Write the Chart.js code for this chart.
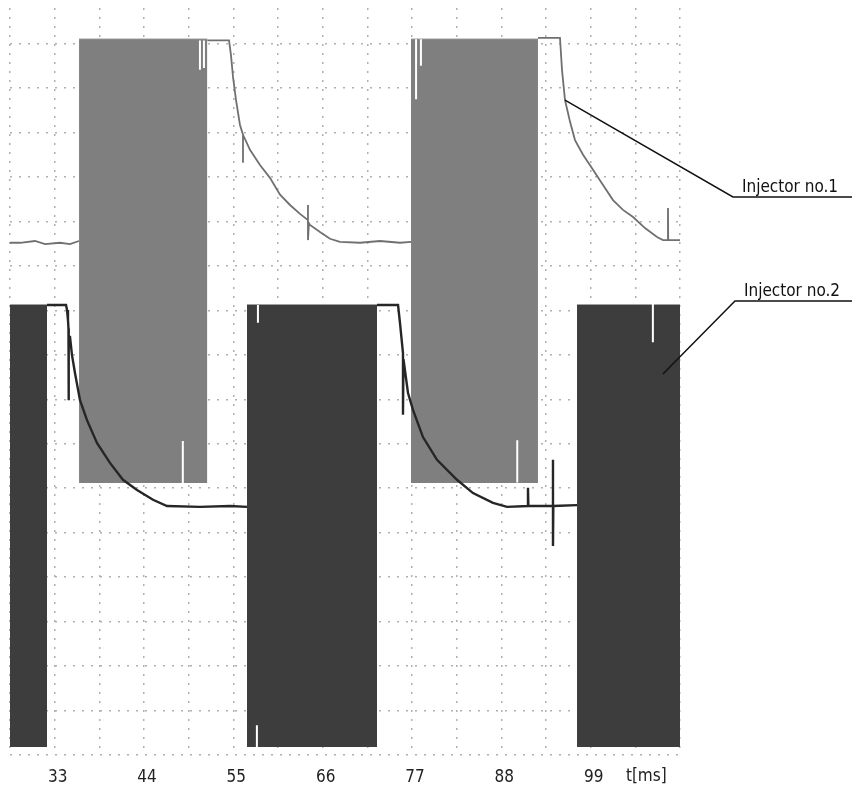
<!DOCTYPE html>
<html>
<head>
<meta charset="utf-8">
<title>Injector signals</title>
<script src="https://cdn.jsdelivr.net/npm/chart.js@4.4.0/dist/chart.umd.min.js"></script>
<style>
  html, body { margin: 0; padding: 0; background: #fff; }
  #chart { display: block; }
</style>
</head>
<body>
<canvas id="chart" width="852" height="785"></canvas>
<script>
// x in ms, y in grid divisions
const tickLabels = [33, 44, 55, 66, 77, 88, 99];

// Injector no.1 trace (null = hidden under a pulse block)
const inj1Time = [
    27.5, 28.73, 30.58, 31.81, 33.66, 34.89, 36.0, 36.0,
    51.8, 54.47, 54.71, 54.96, 55.33, 55.82, 56.19, 56.19, 56.19, 57.05, 58.28, 59.51, 60.75,
    61.98, 63.21, 64.19, 64.19, 64.19, 64.31, 64.44, 65.67, 66.9, 68.13, 70.6, 73.06, 75.52, 76.88, 76.88,
    92.51, 95.22, 95.47, 95.84, 96.46, 97.07, 98.06, 99.29, 100.52, 101.75, 102.98, 104.22,
    105.69, 107.17, 107.9, 108.52, 108.52, 108.55, 110.0
];
const inj1Value = [
    11.52, 11.52, 11.56, 11.49, 11.52, 11.49, 11.56, null,
    16.07, 16.07, 15.74, 15.25, 14.73, 14.17, 13.95, 13.32, 13.95, 13.61, 13.27, 12.98, 12.6,
    12.37, 12.17, 12.03, 12.37, 11.58, 11.96, 11.92, 11.76, 11.61, 11.54, 11.52, 11.56, 11.52, 11.54, null,
    16.13, 16.13, 15.41, 14.73, 14.24, 13.83, 13.5, 13.16, 12.82, 12.48, 12.26, 12.1,
    11.85, 11.65, 11.58, 11.58, 12.3, 11.58, 11.58
];

// Injector no.2 trace
const inj2Time = [
    32.06, 34.4, 34.52, 34.64, 34.7, 34.7, 34.76, 34.89, 35.13, 35.5, 36.12, 36.98, 38.21, 39.81,
    41.41, 43.14, 45.11, 46.83, 50.89, 54.59, 56.68, 56.68,
    72.69, 75.28, 75.52, 75.89, 75.89, 75.95, 76.51, 77.12, 78.35, 80.08, 82.54, 84.51, 86.97,
    88.7, 91.28, 91.28, 91.33, 94.36, 94.36, 94.36, 94.4, 97.32
];
const inj2Value = [
    10.12, 10.12, 10.01, 9.78, 9.6, 7.98, 9.4, 9.4, 9.0, 8.59, 7.98, 7.53, 7.02, 6.57,
    6.19, 5.96, 5.74, 5.6, 5.58, 5.6, 5.58, null,
    10.12, 10.12, 9.72, 9.04, 7.65, 8.9, 8.14, 7.76, 7.15, 6.64, 6.19, 5.89, 5.67,
    5.58, 5.6, 6.01, 5.6, 5.6, 6.64, 4.7, 5.6, 5.62
];

// pulse blocks (chopped signal, drawn filled)
const inj1PulseStart = [36.0, 76.88];
const inj1PulseEnd = [51.8, 92.51];
const inj1PulseTop = 16.1;
const inj1PulseBottom = 6.12;

const inj2PulseStart = [27.5, 56.68, 97.32];
const inj2PulseEnd = [32.06, 72.69, 110.37];
const inj2PulseTop = 10.12;
const inj2PulseBottom = 0.18;

// white dropouts inside the blocks
const glitchTime = [50.89, 51.38, 48.78, 77.5, 78.1, 89.96, 58.03, 106.66, 57.9];
const glitchFrom = [16.07, 16.07, 7.06, 16.1, 16.1, 7.08, 10.12, 10.19, 0.67];
const glitchTo = [15.41, 15.45, 6.12, 14.75, 15.5, 6.13, 9.72, 9.28, 0.18];

const FONT = "'DejaVu Sans Condensed', 'DejaVu Sans', sans-serif";

function points(t, v) {
    return t.map((x, i) => ({ x: x, y: v[i] }));
}

const datasets = [];

datasets.push({
    data: points(inj1Time, inj1Value),
    borderColor: '#707070',
    borderWidth: 1.8,
    order: 4
});

inj1PulseStart.forEach((s, i) => {
    datasets.push({
        data: [{ x: s, y: inj1PulseTop }, { x: inj1PulseEnd[i], y: inj1PulseTop }],
        fill: { value: inj1PulseBottom },
        backgroundColor: '#7f7f7f',
        borderColor: '#7f7f7f',
        borderWidth: 1,
        order: 3
    });
});

inj2PulseStart.forEach((s, i) => {
    datasets.push({
        data: [{ x: s, y: inj2PulseTop }, { x: inj2PulseEnd[i], y: inj2PulseTop }],
        fill: { value: inj2PulseBottom },
        backgroundColor: '#3d3d3d',
        borderColor: '#3d3d3d',
        borderWidth: 1,
        order: 2
    });
});

datasets.push({
    data: points(inj2Time, inj2Value),
    borderColor: '#262626',
    borderWidth: 2.4,
    order: 1
});

const glitchPoints = [];
glitchTime.forEach((t, i) => {
    glitchPoints.push({ x: t, y: glitchFrom[i] }, { x: t, y: glitchTo[i] }, { x: t, y: null });
});
datasets.push({
    data: glitchPoints,
    borderColor: '#ffffff',
    borderWidth: 2,
    order: 0
});

// leader lines and labels on the right
const callouts = [
    { text: 'Injector no.1', fromT: 95.84, fromV: 14.73, bendT: 116.52, bendV: 12.55 },
    { text: 'Injector no.2', fromT: 107.9, fromV: 8.57, bendT: 116.77, bendV: 10.21 }
];

const calloutPlugin = {
    id: 'callouts',
    afterDatasetsDraw(chart) {
        const ctx = chart.ctx;
        const xs = chart.scales.x;
        const ys = chart.scales.y;
        ctx.save();
        ctx.strokeStyle = '#111';
        ctx.lineWidth = 1.5;
        ctx.fillStyle = '#111';
        ctx.font = '17px ' + FONT;
        ctx.textBaseline = 'alphabetic';
        ctx.textAlign = 'left';
        callouts.forEach(c => {
            const x0 = xs.getPixelForValue(c.fromT);
            const y0 = ys.getPixelForValue(c.fromV);
            const x1 = xs.getPixelForValue(c.bendT);
            const y1 = ys.getPixelForValue(c.bendV);
            ctx.beginPath();
            ctx.moveTo(x0, y0);
            ctx.lineTo(x1, y1);
            ctx.lineTo(chart.width, y1);
            ctx.stroke();
            ctx.fillText(c.text, x1 + 9, y1 - 5);
        });
        // axis unit
        ctx.fillStyle = '#222';
        ctx.textAlign = 'center';
        ctx.textBaseline = 'middle';
        ctx.fillText('t[ms]', xs.getPixelForValue(105.85), xs.top + 12 + 9.5);
        ctx.restore();
    }
};

new Chart(document.getElementById('chart'), {
    type: 'line',
    data: { datasets: datasets },
    options: {
        responsive: false,
        animation: false,
        spanGaps: false,
        elements: {
            point: { radius: 0 },
            line: { tension: 0 }
        },
        layout: {
            padding: { left: 10, right: 172, top: 8, bottom: 0 }
        },
        plugins: {
            legend: { display: false },
            tooltip: { enabled: false }
        },
        scales: {
            x: {
                type: 'linear',
                min: 27.5,
                max: 110,
                afterFit: function (scale) {
                    scale.height = 30;
                    scale.paddingLeft = 0;
                    scale.paddingRight = 0;
                },
                grid: { color: '#b0b0b0', lineWidth: 1.5, drawTicks: false },
                border: { display: false, dash: [2, 7] },
                ticks: {
                    stepSize: 5.5,
                    autoSkip: false,
                    maxRotation: 0,
                    padding: 12,
                    labelOffset: 3,
                    color: '#222',
                    font: { family: FONT, size: 17 },
                    callback: function (v) {
                        const r = Math.round(v);
                        return Math.abs(v - r) < 0.01 && tickLabels.includes(r) ? String(r) : '';
                    }
                }
            },
            y: {
                type: 'linear',
                min: 0,
                max: 16.8,
                afterFit: function (scale) { scale.width = 0; },
                grid: { color: '#b0b0b0', lineWidth: 1.5, drawTicks: false },
                border: { display: false, dash: [2, 7] },
                ticks: { display: false, stepSize: 1, includeBounds: false }
            }
        }
    },
    plugins: [calloutPlugin]
});
</script>
</body>
</html>
